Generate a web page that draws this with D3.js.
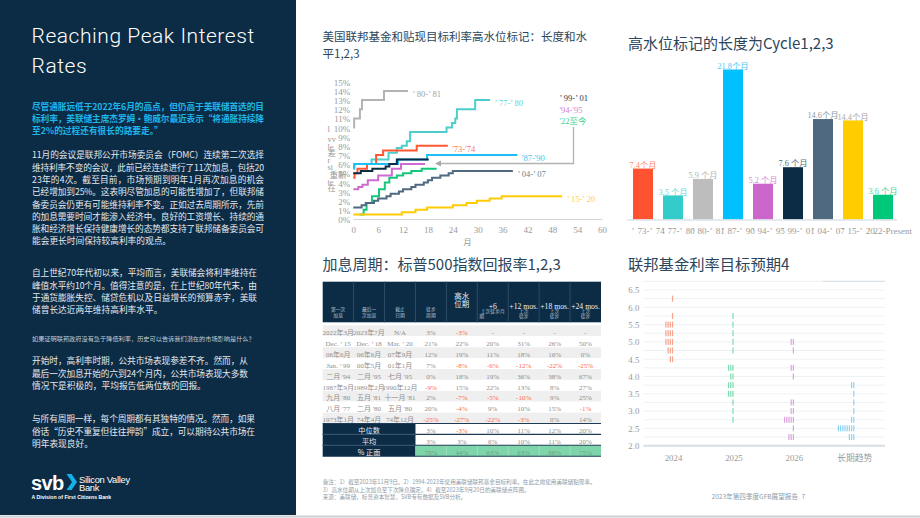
<!DOCTYPE html>
<html lang="zh-CN">
<head>
<meta charset="UTF-8">
<title>Reaching Peak Interest Rates</title>
<script src="https://cdn.jsdelivr.net/npm/d3@7"></script>
<style>
  body { margin: 0; background: #fff; }
  svg { display: block; }
  .cjk { font-family: "Noto Sans CJK SC", "Noto Sans", sans-serif; }
  .serif { font-family: "Liberation Serif", "Noto Sans CJK SC", serif; }
  .latin { font-family: Roboto, "Liberation Sans", sans-serif; }
  .arial { font-family: "Liberation Sans", Arial, sans-serif; }
</style>
</head>
<body>
<svg id="page" width="920" height="518"></svg>
<script>
// ---------- data ----------

// high-water marks: [months since first hike, target rate %]
const rate8081 = [[0,10],[0.2,11],[1.6,12],[2.1,13],[7.4,14],[13.2,14]];
const rate7780 = [[0,5.75],[0.3,6],[4.4,6.5],[8.5,7.25],[10.5,7.75],[11.7,8],[12.9,8.5],[13.7,9.5],[22.5,10],[23.8,10.5],[24.6,11],[25,12],[29.4,13],[33,13]];
const rate7374 = [[0,4.5],[0.3,5],[1,5.5],[3.3,6],[5.5,7],[7.2,7.5],[15.3,8],[22.8,8]];
const rate8790 = [[0,5.5],[0.2,6],[10.8,6.5],[17.8,7],[39.6,7]];
const rate9901 = [[0,5],[1.8,5.25],[4.6,5.5],[7.8,5.75],[8.7,6],[10.5,6.5],[18.2,6.5]];
const rate9495 = [[0,3.25],[1.2,3.5],[2.2,3.75],[3.5,4.25],[6,4.75],[9.3,5.5],[11.5,6],[17.3,6]];
const rate22 = [[1.5,0.5],[2.5,1],[3.2,1.75],[4.5,2.5],[6.2,3.25],[7.6,4],[8.7,4.5],[10.5,4.75],[12,5],[14,5.25],[16.5,5.5],[20.1,5.5]];
const rate0407 = [[0,1.25],[2,1.5],[3,1.75],[5,2],[6,2.25],[8,2.5],[9,2.75],[11,3],[12,3.25],[14,3.5],[15,3.75],[17,4],[18,4.25],[19,4.5],[21,4.75],[23,5],[24,5.25],[38.5,5.25]];
const rate1520 = [[0,0.5],[11.7,0.75],[15,1],[17.8,1.25],[24,1.5],[27.3,1.75],[29.8,2],[32.9,2.25],[35.8,2.5],[50.4,2.5]];
const rateTicks = [0,1,2,3,4,5,6,7,8,9,10,11,12,13,14,15];
const monthTicks = [0,6,12,18,24,30,36,42,48,54,60];

// length of high-water mark (months)
const barCycles = ["’ 73-’ 74","’ 77-’ 80","’ 80-’ 81","’ 87-’ 90","’ 94-’ 95","’ 99-’ 01","’ 04-’ 07","’ 15-’ 20","’ 22-Present"];
const barMonths = [7.4, 3.5, 5.9, 21.8, 5.2, 7.6, 14.6, 14.4, 3.6];
const barLabels = ["7.4个月","3.5 个月","5.9 个月","21.8个月","5.2 个月","7.6 个月","14.6个月","14.4个月","3.6 个月"];

// S&P 500 returns table
const tableHead = [["第一次","加息"],["最后一","次加息"],["截止","日期"],["徒步","周期"],["高水","位期"],["+6","上次徒步月","期"],["+12 mos.","上次","徒步"],["+18 mos.","上次","徒步"],["+24 mos.","上次","徒步"]];
const tableRows = [
  ["2022年3月","2023年7月","N/A","3%","-3%","-","-","-","-"],
  ["Dec. ’ 15","Dec. ’ 18","Mar. ’ 20","21%","22%","20%","31%","26%","50%"],
  ["06年6月","06年6月","07年9月","12%","19%","11%","18%","16%","0%"],
  ["Jun. ’ 99","00年5月","01年1月","7%","-8%","-6%","-12%","-22%","-25%"],
  ["二月 '94","二月 '95","七月 '95","0%","18%","19%","36%","38%","67%"],
  ["1987年9月","1989年2月","1990年12月","-9%","15%","22%","13%","8%","27%"],
  ["九月 '80","五月 '81","十一月 '81","2%","-7%","-5%","-10%","9%","25%"],
  ["八月 '77","二月 '80","五月 '80","20%","-4%","9%","10%","15%","-1%"],
  ["1973年1月","74年4月","74年12月","-25%","-27%","-22%","-3%","0%","14%"]
];
const tableSummary = [
  ["中位数","3%","-3%","10%","11%","12%","20%"],
  ["平均","3%","3%","6%","10%","11%","20%"],
  ["% 正面","78%","44%","63%","63%","88%","75%"]
];

// Fed dot plot (Sept 2023): [rate level, number of participants]
const dotYears = ["2024","2025","2026","长期趋势"];
const dots2024 = [[6.25,1],[5.75,1],[5.5,4],[5.25,4],[5.0,4],[4.75,3],[4.5,2]];
const dots2025 = [[5.75,1],[5.5,1],[5.25,1],[5.0,1],[4.75,1],[4.25,3],[4.0,2],[3.75,3],[3.5,3],[3.25,1],[3.0,1],[2.75,1]];
const dots2026 = [[5.0,2],[4.75,1],[4.25,2],[4.0,1],[3.25,2],[3.0,2],[2.75,5],[2.5,1],[2.25,3]];
const dotsLong = [[3.75,2],[3.5,1],[3.25,1],[3.0,1],[2.75,2],[2.5,8],[2.25,3]];
const dotTicks = [2.0,2.5,3.0,3.5,4.0,4.5,5.0,5.5,6.0,6.5];

// text
const pageTitle = ["Reaching Peak Interest", "Rates"];
const leadLines = [
  "尽管通胀远低于2022年6月的高点，但仍高于美联储首选的目",
  "标利率，美联储主席杰罗姆・鲍威尔最近表示“将通胀持续降",
  "至2%的过程还有很长的路要走。”"
];
const para1 = [
  "11月的会议是联邦公开市场委员会（FOMC）连续第二次选择",
  "维持利率不变的会议，此前已经连续进行了11次加息，包括20",
  "23年的4次。截至目前，市场预期到明年1月再次加息的机会",
  "已经增加到25%。这表明尽管加息的可能性增加了，但联邦储",
  "备委员会仍更有可能维持利率不变。正如过去周期所示，先前",
  "的加息需要时间才能渗入经济中。良好的工资增长、持续的通",
  "胀和经济增长保持健康增长的态势都支持了联邦储备委员会可",
  "能会更长时间保持较高利率的观点。"
];
const para2 = [
  "自上世纪70年代初以来，平均而言，美联储会将利率维持在",
  "峰值水平约10个月。值得注意的是，在上世纪80年代末，由",
  "于通货膨胀失控、储贷危机以及日益增长的预算赤字，美联",
  "储曾长达近两年维持高利率水平。"
];
const question = ["如果证明联邦政府没有急于降低利率，历史可以告诉我们潜在的市场影响是什么？"];
const para3 = [
  "开始时，高利率时期，公共市场表现参差不齐。然而，从",
  "最后一次加息开始的六到24个月内，公共市场表现大多数",
  "情况下是积极的，平均报告低两位数的回报。"
];
const para4 = [
  "与所有周期一样，每个周期都有其独特的情况。然而，如果",
  "俗话“历史不重复但往往押韵”成立，可以期待公共市场在",
  "明年表现良好。"
];
const notes = [
  "备注：1）截至2023年11月9日。2）1994-2023年使用美联储联邦基金目标利率。在此之前使用美联储贴现率。",
  "3）高水位期从上次加息至下次降息确定。4）截至2023年9月20日的美联储点阵图。",
  "来源：美联储，标普资本智慧，SVB专有数据及SVB分析。"
];

// ---------- page ----------
const svg = d3.select("#page");
const navy = "#0c2b45";
const headColor = "#2b465c";

svg.append("rect").attr("width", 296).attr("height", 515).attr("fill", navy);
svg.append("line").attr("x1", 0).attr("x2", 920).attr("y1", 516.5).attr("y2", 516.5)
  .attr("stroke", "#c9d1d7").attr("stroke-width", 2);

// left column text
svg.selectAll(".ttl").data(pageTitle).join("text")
  .attr("class", "latin").attr("x", 31.5).attr("y", (d, i) => 42.7 + i * 30)
  .attr("font-size", 21).attr("font-weight", 300).attr("letter-spacing", 0.55)
  .attr("fill", "#fff").text(d => d);

function block(lines, y0, lh, size, fill, weight, right) {
  svg.append("g").selectAll("text").data(lines).join("text")
    .attr("class", "cjk").attr("x", 32).attr("y", (d, i) => y0 + i * lh)
    .attr("font-size", size).attr("font-weight", weight).attr("fill", fill)
    .attr("textLength", (d, i) => right && i < lines.length - 1 ? right - 32 : null)
    .attr("lengthAdjust", "spacing")
    .text(d => d);
}
block(leadLines, 110.3, 11.6, 8.7, "#1db5ea", 700, 264);
block(para1, 158.3, 12.3, 8.7, "#e3e9ee", 400, 264);
block(para2, 276.3, 12.3, 8.7, "#e3e9ee", 400, 257);
block(question, 341.3, 0, 6.2, "#c3ced7", 400, null);
block(para3, 364.3, 12.4, 8.7, "#e3e9ee", 400, 248);
block(para4, 422.3, 12.4, 8.7, "#e3e9ee", 400, 255);

// svb logo
svg.append("text").attr("class", "arial").attr("x", 31).attr("y", 489.5)
  .attr("font-size", 20).attr("font-weight", 700).attr("letter-spacing", -0.6)
  .attr("fill", "#fff").text("svb");
svg.append("polygon").attr("points", "66.5,474 71.5,474 77,482 71.5,490 66.5,490 72,482")
  .attr("fill", "#12b3ea");
svg.append("text").attr("class", "arial").attr("x", 79).attr("y", 482.5)
  .attr("font-size", 9.4).attr("fill", "#fff").attr("letter-spacing", -0.3).text("Silicon Valley");
svg.append("text").attr("class", "arial").attr("x", 79).attr("y", 491)
  .attr("font-size", 9.4).attr("fill", "#fff").attr("letter-spacing", -0.3).text("Bank");
svg.append("text").attr("class", "arial").attr("x", 31.5).attr("y", 499.2)
  .attr("font-size", 5.2).attr("font-weight", 700).attr("fill", "#fff").text("A Division of First Citizens Bank");

// ---------- chart 1: high-water lines ----------
svg.append("g").selectAll("text")
  .data(["美国联邦基金和贴现目标利率高水位标记：长度和水", "平1,2,3"]).join("text")
  .attr("class", "cjk").attr("x", 322.5).attr("y", (d, i) => 41 + i * 16.5)
  .attr("font-size", 11.5).attr("fill", headColor).text(d => d);

const lx = d3.scaleLinear().domain([0, 60]).range([353.3, 602]);
const ly = d3.scaleLinear().domain([0, 15]).range([219, 81.8]);

svg.append("g").attr("transform", "translate(353.3,0)")
  .call(d3.axisLeft(ly).tickValues(rateTicks).tickFormat(d => d + "%").tickSize(0).tickPadding(3))
  .call(g => g.select(".domain").remove())
  .call(g => g.selectAll("text").attr("class", "serif").attr("font-size", 9).attr("fill", "#9a9a9a").attr("dy", "0.4em"));

svg.append("g").attr("transform", "translate(0,219)")
  .call(d3.axisBottom(lx).tickValues(monthTicks).tickSize(0).tickPadding(8))
  .call(g => g.select(".domain").attr("stroke", "#cfd4d8"))
  .call(g => g.selectAll("text").attr("class", "serif").attr("font-size", 9).attr("fill", "#9a9a9a"));

svg.append("text").attr("class", "cjk").attr("x", 467.5).attr("y", 244.5)
  .attr("font-size", 8.5).attr("fill", "#9a9a9a").attr("text-anchor", "middle").text("月");

// stray axis-title fragments left of the rate axis
svg.append("g").selectAll("text")
  .data([["l", 132], ["vv", 141.5], ["le", 150], ["差", 156], ["r", 163], ["st", 169.5], ["重新", 177.5], ["te", 185], ["在", 191]])
  .join("text").attr("class", "serif").attr("x", d => d[0] === "重新" ? 329.5 : 327.5).attr("y", d => d[1])
  .attr("font-size", 8.5).attr("fill", "#9a9a9a").text(d => d[0]);

const lineData = [
  {name: "’ 80-’ 81", values: rate8081, color: "#b3b3b3", text: "#9f9f9f"},
  {name: "’ 77-’ 80", values: rate7780, color: "#4ccfcc", text: "#5fd3d3"},
  {name: "'73-'74", values: rate7374, color: "#ff5732", text: "#ff7a5c"},
  {name: "'87-'90", values: rate8790, color: "#1cc0f7", text: "#3cc4f0"},
  {name: "’ 99-’ 01", values: rate9901, color: "#0c2b45", text: "#233d52", key: true},
  {name: "'94-'95", values: rate9495, color: "#cd6bd0", text: "#d27fd4", key: true},
  {name: "'22至今", values: rate22, color: "#15c77a", text: "#3fcf8e", key: true},
  {name: "’ 04-’ 07", values: rate0407, color: "#4f6a80", text: "#6d8192"},
  {name: "’ 15-’ 20", values: rate1520, color: "#ffcb05", text: "#ffd23a"}
];
const stepLine = d3.line().x(d => lx(d[0])).y(d => ly(d[1])).curve(d3.curveStepAfter);

svg.append("g").selectAll("path").data(lineData).join("path")
  .attr("d", d => stepLine(d.values)).attr("fill", "none")
  .attr("stroke", d => d.color).attr("stroke-width", 2);

svg.append("g").selectAll("text").data(lineData.filter(d => !d.key)).join("text")
  .attr("class", "serif").attr("font-size", 8.5).attr("fill", d => d.text)
  .attr("x", d => lx(d.values[d.values.length - 1][0]) + 4.5)
  .attr("y", d => ly(d.values[d.values.length - 1][1]) + 6)
  .text(d => d.name);

svg.append("g").selectAll("text").data(lineData.filter(d => d.key)).join("text")
  .attr("class", "serif").attr("font-size", 8.5).attr("fill", d => d.text)
  .attr("x", 559.5).attr("y", (d, i) => 101 + i * 11.5)
  .text(d => d.name);

svg.append("defs").append("marker").attr("id", "arr")
  .attr("viewBox", "0 0 10 10").attr("refX", 2).attr("refY", 5)
  .attr("markerWidth", 5).attr("markerHeight", 5).attr("orient", "auto-start-reverse")
  .append("path").attr("d", "M0,0 L10,5 L0,10 z").attr("fill", "#a9a9a9");
svg.append("path").attr("d", "M573.5,127 V163.5 H440")
  .attr("fill", "none").attr("stroke", "#b3b3b3").attr("stroke-width", 1.3)
  .attr("marker-end", "url(#arr)");

// ---------- chart 2: bars ----------
svg.append("text").attr("class", "cjk").attr("x", 628).attr("y", 48.5)
  .attr("font-size", 15).attr("fill", headColor).text("高水位标记的长度为Cycle1,2,3");

const barColors = ["#ff5230", "#33cccb", "#bdbdbd", "#00bfff", "#cc66cc", "#0c2b45", "#4f6a80", "#ffcc00", "#00c87a"];
const labelColors = ["#ff8a70", "#6fd8d6", "#b5b5b5", "#49c9f5", "#d98ad9", "#5b6e7e", "#8c98a3", "#a9a9a9", "#4fd39a"];
const bx = d3.scaleBand().domain(barCycles).range([628, 898]).paddingInner(1 / 3).paddingOuter(1 / 6);
const by = d3.scaleLinear().domain([0, 21.8]).range([219.5, 69.5]);

svg.append("g").selectAll("rect").data(barMonths).join("rect")
  .attr("x", (d, i) => bx(barCycles[i])).attr("width", bx.bandwidth())
  .attr("y", d => by(d)).attr("height", d => by(0) - by(d))
  .attr("fill", (d, i) => barColors[i]);

svg.append("g").selectAll("text").data(barLabels).join("text")
  .attr("class", "serif").attr("font-size", 8.3).attr("text-anchor", "middle")
  .attr("x", (d, i) => bx(barCycles[i]) + bx.bandwidth() / 2)
  .attr("y", (d, i) => by(barMonths[i]) - 0.8)
  .attr("fill", (d, i) => labelColors[i]).text(d => d);

svg.append("line").attr("x1", 627).attr("x2", 897).attr("y1", 220).attr("y2", 220)
  .attr("stroke", "#dce3e9").attr("stroke-width", 1.5);

// category labels run into each other, as in the original layout
const lastCycle = barCycles[barCycles.length - 1];
svg.append("g").selectAll("text").data(barCycles).join("text")
  .attr("class", "serif").attr("font-size", 9).attr("word-spacing", 1.6).attr("fill", "#9a9a9a")
  .attr("text-anchor", d => d === lastCycle ? "end" : "start")
  .attr("x", d => d === lastCycle ? 912 : bx(d) - 1.6).attr("y", 233.5).text(d => d);

// ---------- table ----------
svg.append("text").attr("class", "cjk").attr("x", 322.5).attr("y", 269.5)
  .attr("font-size", 15).attr("fill", headColor).text("加息周期：标普500指数回报率1,2,3");

const tx = d3.scaleBand().domain(d3.range(9)).range([322.7, 601]);
const cw = tx.bandwidth();
const rowH = 10.9;
const bodyTop = 325.4;
const sumTop = bodyTop + tableRows.length * rowH;

svg.append("rect").attr("x", 322.7).attr("y", 281.7).attr("width", 278.3).attr("height", 40.6).attr("fill", navy);
svg.append("g").selectAll("line").data(d3.range(1, 9)).join("line")
  .attr("x1", d => tx(d)).attr("x2", d => tx(d)).attr("y1", 281.7).attr("y2", 322.3)
  .attr("stroke", "#2e4c65").attr("stroke-width", 1);

const headG = svg.append("g");
tableHead.forEach((lines, c) => {
  const cx = tx(c) + cw / 2;
  if (c < 4) {
    lines.forEach((t, k) => headG.append("text").attr("class", "cjk").attr("x", cx).attr("y", 310.5 + k * 6)
      .attr("text-anchor", "middle").attr("font-size", 4.8).attr("fill", "#b9c6d1").text(t));
  } else if (c === 4) {
    lines.forEach((t, k) => headG.append("text").attr("class", "cjk").attr("x", cx).attr("y", 299 + k * 8.3)
      .attr("text-anchor", "middle").attr("font-size", 7.5).attr("fill", "#e8eef3").text(t));
  } else {
    headG.append("text").attr("class", "serif").attr("x", cx).attr("y", 309.3)
      .attr("text-anchor", "middle").attr("font-size", 7.7).attr("fill", "#e8eef3").text(lines[0]);
    lines.slice(1).forEach((t, k) => {
      const wrapped = lines.length === 3 && c === 5 && k === 1;
      headG.append("text").attr("class", "cjk")
        .attr("x", wrapped ? tx(c) + 2 : cx).attr("y", 313 + k * 5.3)
        .attr("text-anchor", wrapped ? "start" : "middle")
        .attr("font-size", 4.8).attr("fill", "#b9c6d1").text(t);
    });
  }
});

const isNeg = s => /^-\d/.test(s);
const rowG = svg.append("g").selectAll("g").data(tableRows).join("g");
rowG.append("rect").attr("x", 322.7).attr("width", 278.3)
  .attr("y", (d, i) => bodyTop + i * rowH).attr("height", rowH)
  .attr("fill", (d, i) => i % 2 === 0 ? "#efefef" : "#fff");
rowG.selectAll("text").data((d, i) => d.map((v, c) => ({v, c, i}))).join("text")
  .attr("class", "serif").attr("font-size", 7).attr("text-anchor", "middle")
  .attr("x", d => tx(d.c) + cw / 2).attr("y", d => bodyTop + d.i * rowH + 9.6)
  .attr("fill", d => isNeg(d.v) ? "#ff6a4d" : "#8e8e8e").text(d => d.v);

svg.append("rect").attr("x", 322.7).attr("y", sumTop).attr("width", tx(3) - 322.7).attr("height", rowH * 3).attr("fill", navy);
svg.append("rect").attr("x", tx(3)).attr("y", sumTop + 2 * rowH).attr("width", 601 - tx(3)).attr("height", rowH).attr("fill", "#7fd5aa");
svg.append("g").selectAll("line").data(d3.range(4, 9)).join("line")
  .attr("x1", d => tx(d)).attr("x2", d => tx(d)).attr("y1", sumTop + 2 * rowH).attr("y2", sumTop + 3 * rowH)
  .attr("stroke", "#a6e2c4").attr("stroke-width", 0.8);
svg.append("g").selectAll("line").data([0, 1, 2, 3]).join("line")
  .attr("x1", 322.7).attr("x2", 601).attr("y1", d => sumTop + d * rowH).attr("y2", d => sumTop + d * rowH)
  .attr("stroke", "#1d3b55").attr("stroke-width", 1.1);
svg.append("g").selectAll("line").data([1, 2]).join("line")
  .attr("x1", 322.7).attr("x2", tx(3)).attr("y1", d => sumTop + d * rowH).attr("y2", d => sumTop + d * rowH)
  .attr("stroke", "#3a5870").attr("stroke-width", 1);

const sumG = svg.append("g").selectAll("g").data(tableSummary).join("g");
sumG.append("text").attr("class", "cjk").attr("font-size", 7.2).attr("text-anchor", "middle")
  .attr("x", (322.7 + tx(3)) / 2).attr("y", (d, i) => sumTop + i * rowH + 9.8)
  .attr("fill", "#e8eef3").text(d => d[0]);
sumG.selectAll(".v").data((d, i) => d.slice(1).map((v, k) => ({v, c: k + 3, i}))).join("text")
  .attr("class", "serif").attr("font-size", 7).attr("text-anchor", "middle")
  .attr("x", d => tx(d.c) + cw / 2).attr("y", d => sumTop + d.i * rowH + 9.6)
  .attr("fill", d => isNeg(d.v) ? "#ff6a4d" : d.i === 2 ? "#6a9f86" : "#8e8e8e").text(d => d.v);

// ---------- chart 3: dot plot ----------
svg.append("text").attr("class", "cjk").attr("x", 628).attr("y", 269.5)
  .attr("font-size", 15.3).attr("fill", headColor).text("联邦基金利率目标预期4");

const dx = d3.scaleBand().domain(dotYears).range([643.3, 885]);
const dy = d3.scaleLinear().domain([2, 6.5]).range([445.7, 290]);

svg.append("g").selectAll("line").data(d3.range(2.25, 6.8, 0.25)).join("line")
  .attr("x1", 643.3).attr("x2", 885).attr("y1", d => dy(d)).attr("y2", d => dy(d))
  .attr("stroke", "#eef1f4").attr("stroke-width", 1);
svg.append("line").attr("x1", 823).attr("x2", 885).attr("y1", dy(6.75)).attr("y2", dy(6.75))
  .attr("stroke", "#dbe2e8").attr("stroke-width", 1.2);
svg.append("line").attr("x1", 643.3).attr("x2", 885).attr("y1", dy(2)).attr("y2", dy(2))
  .attr("stroke", "#d6dfe7").attr("stroke-width", 2);

svg.append("g").attr("transform", "translate(643.3,0)")
  .call(d3.axisLeft(dy).tickValues(dotTicks).tickFormat(d3.format(".1f")).tickSize(0).tickPadding(4))
  .call(g => g.select(".domain").remove())
  .call(g => g.selectAll("text").attr("class", "serif").attr("font-size", 8.8).attr("fill", "#9a9a9a"));

svg.append("g").attr("transform", "translate(0,446)")
  .call(d3.axisBottom(dx).tickSize(0).tickPadding(9))
  .call(g => g.select(".domain").remove())
  .call(g => g.selectAll("text").attr("class", "serif").attr("font-size", 8.8).attr("fill", "#9a9a9a"));

const dotSets = [dots2024, dots2025, dots2026, dotsLong];
const dotColors = ["#f6a28e", "#7fdab1", "#dca3de", "#8fd3f2"];
const dotG = svg.append("g");
dotSets.forEach((set, j) => {
  const cx = dx(dotYears[j]) + dx.bandwidth() / 2 - 1;
  set.forEach(([lvl, n]) => {
    for (let k = 0; k < n; k++) {
      dotG.append("rect").attr("x", cx - k * 2.2 - 0.6).attr("y", dy(lvl) - 3)
        .attr("width", 1.2).attr("height", 6).attr("fill", dotColors[j]);
    }
  });
});

// ---------- footer ----------
svg.append("g").selectAll("text").data(notes).join("text")
  .attr("class", "cjk").attr("x", 322.7).attr("y", (d, i) => 484 + i * 7.5)
  .attr("font-size", 5.6).attr("fill", "#8f9ba6").text(d => d);
svg.append("text").attr("class", "cjk").attr("x", 711.5).attr("y", 499.3)
  .attr("font-size", 6.6).attr("fill", "#8f9ba6").text("2023年第四季度GFB展望报告");
svg.append("text").attr("class", "cjk").attr("x", 801.5).attr("y", 499.3)
  .attr("font-size", 6.6).attr("fill", "#8f9ba6").text("7");
</script>
</body>
</html>
